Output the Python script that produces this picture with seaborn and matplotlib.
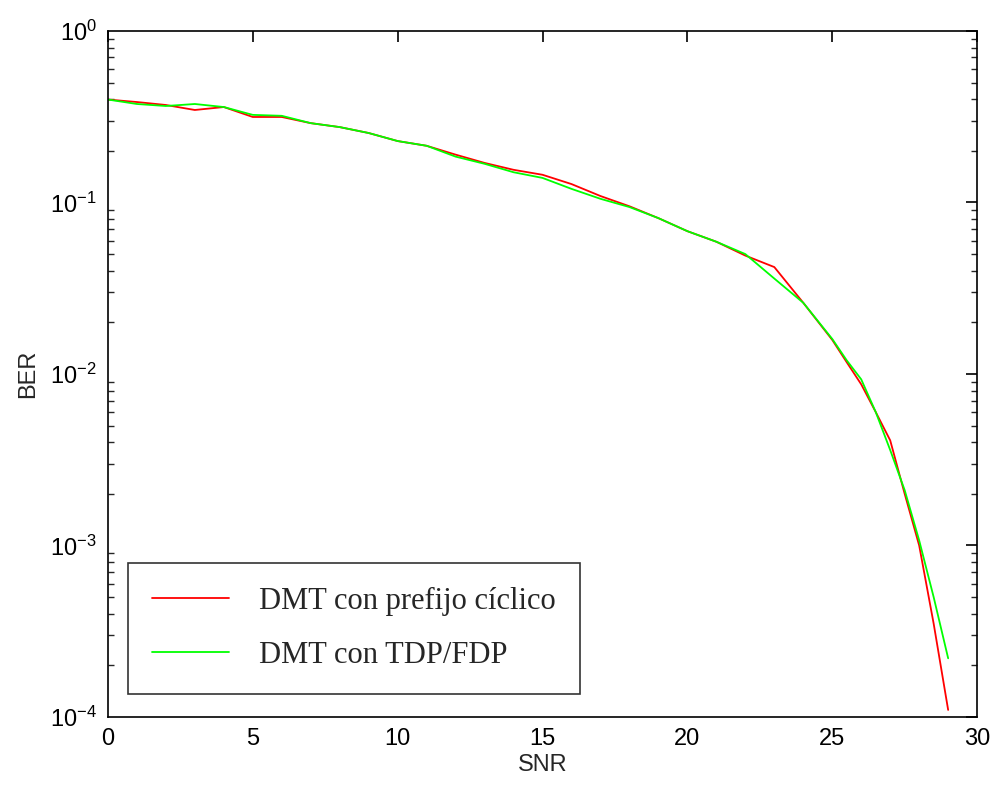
import numpy as np
import pandas as pd
import matplotlib
matplotlib.use("Agg")
import matplotlib.pyplot as plt
import seaborn as sns
from matplotlib.ticker import LogLocator, LogFormatterSciNotation, FixedLocator

# ---- data ----
snr = [0, 1, 2, 3, 4, 5, 6, 7, 8, 9, 10, 11, 12, 13, 14, 15, 16, 17, 18, 19,
       20, 21, 22, 23, 24, 25, 25.5, 26, 26.5, 27, 27.5, 28, 28.5, 29]
ber_cp = [0.398, 0.385, 0.370, 0.346, 0.360, 0.315, 0.315, 0.290, 0.275, 0.254,
          0.228, 0.214, 0.190, 0.170, 0.155, 0.145, 0.128, 0.109, 0.095, 0.081,
          0.068, 0.059, 0.049, 0.042, 0.026, 0.0158, 0.0117, 0.0087, 0.0060,
          0.0041, 0.0020, 0.0010, 0.00035, 0.00011]
ber_tdp = [0.398, 0.375, 0.365, 0.375, 0.360, 0.324, 0.320, 0.290, 0.275, 0.254,
           0.228, 0.214, 0.185, 0.168, 0.150, 0.139, 0.120, 0.105, 0.094, 0.081,
           0.068, 0.059, 0.050, 0.036, 0.026, 0.0160, 0.0120, 0.0093, 0.0060,
           0.0036, 0.0021, 0.00107, 0.00050, 0.00022]
labels = ["DMT con prefijo cíclico", "DMT con TDP/FDP"]
colors = ["#ff0000", "#00ff00"]
x_ticks = [0, 5, 10, 15, 20, 25, 30]

df = pd.concat([
    pd.DataFrame({"SNR": snr, "BER": ber_cp, "serie": labels[0]}),
    pd.DataFrame({"SNR": snr, "BER": ber_tdp, "serie": labels[1]}),
])

sns.set_style("white")
plt.rcParams["font.family"] = ["Liberation Sans", "DejaVu Sans"]
plt.rcParams["mathtext.fontset"] = "custom"
plt.rcParams["mathtext.rm"] = "Liberation Sans"
plt.rcParams["mathtext.it"] = "Liberation Sans"

fig = plt.figure(figsize=(9.9, 7.85), dpi=100)
ax = fig.add_axes([0.109, 0.0866, 0.878, 0.874])

sns.lineplot(data=df, x="SNR", y="BER", hue="serie", palette=colors,
             linewidth=1.3, ax=ax, legend=False, estimator=None, sort=False)

ax.set_yscale("log")
ax.set_xlim(0, 30)
ax.set_ylim(1e-4, 1)
ax.xaxis.set_major_locator(FixedLocator(x_ticks))
ax.yaxis.set_major_locator(LogLocator(base=10, numticks=10))
ax.yaxis.set_minor_locator(LogLocator(base=10, subs=np.arange(2, 10), numticks=10))
ax.yaxis.set_major_formatter(LogFormatterSciNotation())

for s in ax.spines.values():
    s.set_visible(True)
    s.set_color("black")
    s.set_linewidth(1.2)

ax.tick_params(axis="both", which="major", direction="in", length=8, width=1.2,
               top=True, right=True, labelsize=17, colors="black", pad=8)
ax.tick_params(axis="y", which="minor", direction="in", length=4.5, width=1.0,
               left=True, right=True)

ax.set_xlabel("SNR", fontsize=17, labelpad=3)
ax.set_ylabel("BER", fontsize=17, labelpad=8)

handles = [plt.Line2D([], [], color=c, linewidth=1.3) for c in colors]
leg = ax.legend(handles, labels, loc="lower left", bbox_to_anchor=(0.023, 0.0335),
                borderaxespad=0, frameon=True, fancybox=False, edgecolor="black",
                prop={"family": "Liberation Serif", "size": 22},
                handlelength=2.5, handletextpad=1.0, labelspacing=0.8,
                borderpad=0.8)
leg.get_frame().set_linewidth(1.2)

fig.savefig("out.png", dpi=100, facecolor="white")
